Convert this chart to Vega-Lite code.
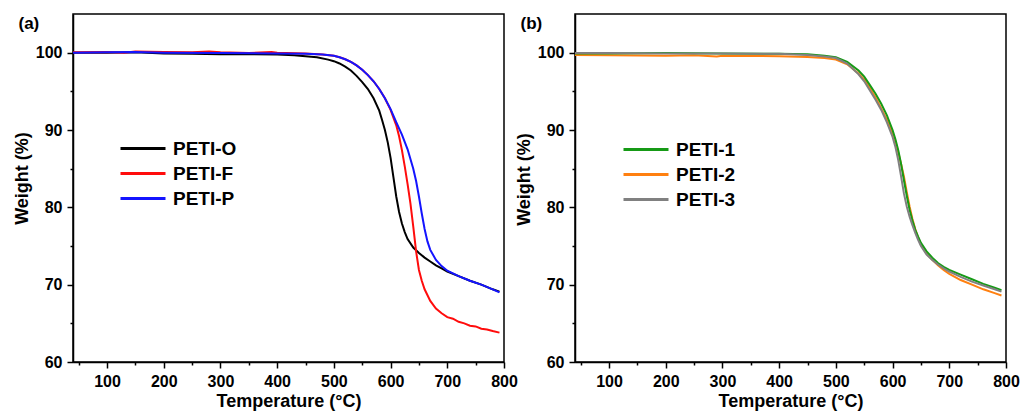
{
  "$schema": "https://vega.github.io/schema/vega-lite/v6.json",
  "background": "white",
  "padding": {"left": 12, "top": 13, "right": 4, "bottom": 2},
  "bounds": "flush",
  "spacing": 71,
  "datasets": {
    "a": [
      {"T": 40, "W": 100.0, "s": "PETI-O"}, {"T": 100, "W": 100.0, "s": "PETI-O"}, {"T": 150, "W": 100.05, "s": "PETI-O"}, {"T": 200, "W": 99.9, "s": "PETI-O"}, {"T": 250, "W": 99.85, "s": "PETI-O"}, {"T": 300, "W": 99.8, "s": "PETI-O"}, {"T": 350, "W": 99.8, "s": "PETI-O"}, {"T": 400, "W": 99.75, "s": "PETI-O"}, {"T": 430, "W": 99.65, "s": "PETI-O"}, {"T": 450, "W": 99.55, "s": "PETI-O"}, {"T": 470, "W": 99.4, "s": "PETI-O"}, {"T": 490, "W": 99.1, "s": "PETI-O"}, {"T": 500, "W": 98.9, "s": "PETI-O"}, {"T": 510, "W": 98.6, "s": "PETI-O"}, {"T": 520, "W": 98.2, "s": "PETI-O"}, {"T": 530, "W": 97.7, "s": "PETI-O"}, {"T": 540, "W": 97.0, "s": "PETI-O"}, {"T": 550, "W": 96.2, "s": "PETI-O"}, {"T": 560, "W": 95.3, "s": "PETI-O"}, {"T": 570, "W": 94.1, "s": "PETI-O"}, {"T": 580, "W": 92.5, "s": "PETI-O"}, {"T": 585, "W": 91.3, "s": "PETI-O"}, {"T": 590, "W": 90.0, "s": "PETI-O"}, {"T": 595, "W": 88.4, "s": "PETI-O"}, {"T": 600, "W": 86.4, "s": "PETI-O"}, {"T": 605, "W": 83.9, "s": "PETI-O"}, {"T": 610, "W": 81.4, "s": "PETI-O"}, {"T": 615, "W": 79.4, "s": "PETI-O"}, {"T": 620, "W": 77.9, "s": "PETI-O"}, {"T": 625, "W": 76.8, "s": "PETI-O"}, {"T": 630, "W": 75.9, "s": "PETI-O"}, {"T": 640, "W": 74.8, "s": "PETI-O"}, {"T": 650, "W": 74.1, "s": "PETI-O"}, {"T": 660, "W": 73.5, "s": "PETI-O"}, {"T": 670, "W": 73.0, "s": "PETI-O"}, {"T": 680, "W": 72.5, "s": "PETI-O"}, {"T": 690, "W": 72.1, "s": "PETI-O"}, {"T": 700, "W": 71.7, "s": "PETI-O"}, {"T": 720, "W": 71.1, "s": "PETI-O"}, {"T": 740, "W": 70.5, "s": "PETI-O"}, {"T": 760, "W": 70.0, "s": "PETI-O"}, {"T": 780, "W": 69.4, "s": "PETI-O"}, {"T": 792, "W": 69.1, "s": "PETI-O"},
      {"T": 40, "W": 100.05, "s": "PETI-F"}, {"T": 100, "W": 100.1, "s": "PETI-F"}, {"T": 130, "W": 100.0, "s": "PETI-F"}, {"T": 150, "W": 100.15, "s": "PETI-F"}, {"T": 200, "W": 100.1, "s": "PETI-F"}, {"T": 250, "W": 100.05, "s": "PETI-F"}, {"T": 280, "W": 100.15, "s": "PETI-F"}, {"T": 300, "W": 100.05, "s": "PETI-F"}, {"T": 350, "W": 99.95, "s": "PETI-F"}, {"T": 390, "W": 100.1, "s": "PETI-F"}, {"T": 400, "W": 100.0, "s": "PETI-F"}, {"T": 450, "W": 99.9, "s": "PETI-F"}, {"T": 480, "W": 99.75, "s": "PETI-F"}, {"T": 500, "W": 99.6, "s": "PETI-F"}, {"T": 510, "W": 99.4, "s": "PETI-F"}, {"T": 520, "W": 99.15, "s": "PETI-F"}, {"T": 530, "W": 98.8, "s": "PETI-F"}, {"T": 540, "W": 98.35, "s": "PETI-F"}, {"T": 550, "W": 97.8, "s": "PETI-F"}, {"T": 560, "W": 97.1, "s": "PETI-F"}, {"T": 570, "W": 96.3, "s": "PETI-F"}, {"T": 580, "W": 95.3, "s": "PETI-F"}, {"T": 590, "W": 94.1, "s": "PETI-F"}, {"T": 600, "W": 92.6, "s": "PETI-F"}, {"T": 610, "W": 90.6, "s": "PETI-F"}, {"T": 615, "W": 89.2, "s": "PETI-F"}, {"T": 620, "W": 87.4, "s": "PETI-F"}, {"T": 625, "W": 85.3, "s": "PETI-F"}, {"T": 630, "W": 83.0, "s": "PETI-F"}, {"T": 635, "W": 80.5, "s": "PETI-F"}, {"T": 640, "W": 77.5, "s": "PETI-F"}, {"T": 645, "W": 74.3, "s": "PETI-F"}, {"T": 650, "W": 71.9, "s": "PETI-F"}, {"T": 655, "W": 70.5, "s": "PETI-F"}, {"T": 660, "W": 69.4, "s": "PETI-F"}, {"T": 670, "W": 67.9, "s": "PETI-F"}, {"T": 680, "W": 66.9, "s": "PETI-F"}, {"T": 690, "W": 66.3, "s": "PETI-F"}, {"T": 700, "W": 65.8, "s": "PETI-F"}, {"T": 710, "W": 65.6, "s": "PETI-F"}, {"T": 720, "W": 65.2, "s": "PETI-F"}, {"T": 730, "W": 65.0, "s": "PETI-F"}, {"T": 740, "W": 64.7, "s": "PETI-F"}, {"T": 750, "W": 64.6, "s": "PETI-F"}, {"T": 760, "W": 64.3, "s": "PETI-F"}, {"T": 770, "W": 64.2, "s": "PETI-F"}, {"T": 780, "W": 64.0, "s": "PETI-F"}, {"T": 792, "W": 63.8, "s": "PETI-F"},
      {"T": 40, "W": 100.0, "s": "PETI-P"}, {"T": 100, "W": 100.05, "s": "PETI-P"}, {"T": 150, "W": 100.1, "s": "PETI-P"}, {"T": 200, "W": 100.0, "s": "PETI-P"}, {"T": 300, "W": 99.95, "s": "PETI-P"}, {"T": 400, "W": 99.9, "s": "PETI-P"}, {"T": 450, "W": 99.85, "s": "PETI-P"}, {"T": 480, "W": 99.75, "s": "PETI-P"}, {"T": 500, "W": 99.6, "s": "PETI-P"}, {"T": 510, "W": 99.4, "s": "PETI-P"}, {"T": 520, "W": 99.15, "s": "PETI-P"}, {"T": 530, "W": 98.8, "s": "PETI-P"}, {"T": 540, "W": 98.35, "s": "PETI-P"}, {"T": 550, "W": 97.8, "s": "PETI-P"}, {"T": 560, "W": 97.1, "s": "PETI-P"}, {"T": 570, "W": 96.3, "s": "PETI-P"}, {"T": 580, "W": 95.3, "s": "PETI-P"}, {"T": 590, "W": 94.1, "s": "PETI-P"}, {"T": 600, "W": 92.7, "s": "PETI-P"}, {"T": 610, "W": 91.0, "s": "PETI-P"}, {"T": 620, "W": 89.4, "s": "PETI-P"}, {"T": 630, "W": 87.5, "s": "PETI-P"}, {"T": 640, "W": 85.0, "s": "PETI-P"}, {"T": 645, "W": 83.4, "s": "PETI-P"}, {"T": 650, "W": 81.4, "s": "PETI-P"}, {"T": 655, "W": 79.2, "s": "PETI-P"}, {"T": 660, "W": 77.2, "s": "PETI-P"}, {"T": 665, "W": 75.6, "s": "PETI-P"}, {"T": 670, "W": 74.5, "s": "PETI-P"}, {"T": 680, "W": 73.2, "s": "PETI-P"}, {"T": 690, "W": 72.4, "s": "PETI-P"}, {"T": 700, "W": 71.8, "s": "PETI-P"}, {"T": 720, "W": 71.1, "s": "PETI-P"}, {"T": 740, "W": 70.5, "s": "PETI-P"}, {"T": 760, "W": 70.0, "s": "PETI-P"}, {"T": 780, "W": 69.4, "s": "PETI-P"}, {"T": 792, "W": 69.0, "s": "PETI-P"}
    ],
    "b": [
      {"T": 40, "W": 99.7, "s": "PETI-2"}, {"T": 100, "W": 99.65, "s": "PETI-2"}, {"T": 200, "W": 99.6, "s": "PETI-2"}, {"T": 250, "W": 99.65, "s": "PETI-2"}, {"T": 290, "W": 99.5, "s": "PETI-2"}, {"T": 300, "W": 99.6, "s": "PETI-2"}, {"T": 400, "W": 99.55, "s": "PETI-2"}, {"T": 450, "W": 99.45, "s": "PETI-2"}, {"T": 480, "W": 99.3, "s": "PETI-2"}, {"T": 500, "W": 99.1, "s": "PETI-2"}, {"T": 520, "W": 98.5, "s": "PETI-2"}, {"T": 540, "W": 97.3, "s": "PETI-2"}, {"T": 550, "W": 96.5, "s": "PETI-2"}, {"T": 560, "W": 95.4, "s": "PETI-2"}, {"T": 570, "W": 94.2, "s": "PETI-2"}, {"T": 580, "W": 92.8, "s": "PETI-2"}, {"T": 590, "W": 91.3, "s": "PETI-2"}, {"T": 600, "W": 89.6, "s": "PETI-2"}, {"T": 605, "W": 88.5, "s": "PETI-2"}, {"T": 610, "W": 87.1, "s": "PETI-2"}, {"T": 615, "W": 85.6, "s": "PETI-2"}, {"T": 620, "W": 84.0, "s": "PETI-2"}, {"T": 625, "W": 82.0, "s": "PETI-2"}, {"T": 630, "W": 80.1, "s": "PETI-2"}, {"T": 635, "W": 78.5, "s": "PETI-2"}, {"T": 640, "W": 77.2, "s": "PETI-2"}, {"T": 645, "W": 76.1, "s": "PETI-2"}, {"T": 650, "W": 75.2, "s": "PETI-2"}, {"T": 660, "W": 74.0, "s": "PETI-2"}, {"T": 670, "W": 73.2, "s": "PETI-2"}, {"T": 680, "W": 72.5, "s": "PETI-2"}, {"T": 690, "W": 71.9, "s": "PETI-2"}, {"T": 700, "W": 71.4, "s": "PETI-2"}, {"T": 720, "W": 70.6, "s": "PETI-2"}, {"T": 740, "W": 70.0, "s": "PETI-2"}, {"T": 760, "W": 69.4, "s": "PETI-2"}, {"T": 780, "W": 68.9, "s": "PETI-2"}, {"T": 792, "W": 68.6, "s": "PETI-2"},
      {"T": 40, "W": 99.9, "s": "PETI-1"}, {"T": 100, "W": 99.9, "s": "PETI-1"}, {"T": 200, "W": 99.95, "s": "PETI-1"}, {"T": 300, "W": 99.9, "s": "PETI-1"}, {"T": 400, "W": 99.85, "s": "PETI-1"}, {"T": 450, "W": 99.8, "s": "PETI-1"}, {"T": 480, "W": 99.6, "s": "PETI-1"}, {"T": 500, "W": 99.4, "s": "PETI-1"}, {"T": 520, "W": 98.8, "s": "PETI-1"}, {"T": 540, "W": 97.7, "s": "PETI-1"}, {"T": 550, "W": 96.9, "s": "PETI-1"}, {"T": 560, "W": 95.8, "s": "PETI-1"}, {"T": 570, "W": 94.7, "s": "PETI-1"}, {"T": 580, "W": 93.4, "s": "PETI-1"}, {"T": 590, "W": 91.9, "s": "PETI-1"}, {"T": 600, "W": 90.0, "s": "PETI-1"}, {"T": 605, "W": 88.8, "s": "PETI-1"}, {"T": 610, "W": 87.4, "s": "PETI-1"}, {"T": 615, "W": 85.6, "s": "PETI-1"}, {"T": 620, "W": 83.5, "s": "PETI-1"}, {"T": 625, "W": 81.5, "s": "PETI-1"}, {"T": 630, "W": 79.7, "s": "PETI-1"}, {"T": 635, "W": 78.3, "s": "PETI-1"}, {"T": 640, "W": 77.1, "s": "PETI-1"}, {"T": 645, "W": 76.2, "s": "PETI-1"}, {"T": 650, "W": 75.4, "s": "PETI-1"}, {"T": 660, "W": 74.3, "s": "PETI-1"}, {"T": 670, "W": 73.5, "s": "PETI-1"}, {"T": 680, "W": 72.8, "s": "PETI-1"}, {"T": 690, "W": 72.3, "s": "PETI-1"}, {"T": 700, "W": 71.9, "s": "PETI-1"}, {"T": 720, "W": 71.3, "s": "PETI-1"}, {"T": 740, "W": 70.7, "s": "PETI-1"}, {"T": 760, "W": 70.1, "s": "PETI-1"}, {"T": 780, "W": 69.6, "s": "PETI-1"}, {"T": 792, "W": 69.3, "s": "PETI-1"},
      {"T": 40, "W": 99.95, "s": "PETI-3"}, {"T": 100, "W": 99.95, "s": "PETI-3"}, {"T": 200, "W": 99.9, "s": "PETI-3"}, {"T": 300, "W": 99.9, "s": "PETI-3"}, {"T": 400, "W": 99.85, "s": "PETI-3"}, {"T": 450, "W": 99.7, "s": "PETI-3"}, {"T": 480, "W": 99.5, "s": "PETI-3"}, {"T": 500, "W": 99.3, "s": "PETI-3"}, {"T": 520, "W": 98.6, "s": "PETI-3"}, {"T": 540, "W": 97.2, "s": "PETI-3"}, {"T": 550, "W": 96.3, "s": "PETI-3"}, {"T": 560, "W": 95.1, "s": "PETI-3"}, {"T": 570, "W": 93.9, "s": "PETI-3"}, {"T": 580, "W": 92.6, "s": "PETI-3"}, {"T": 590, "W": 91.0, "s": "PETI-3"}, {"T": 600, "W": 89.1, "s": "PETI-3"}, {"T": 605, "W": 87.8, "s": "PETI-3"}, {"T": 610, "W": 86.1, "s": "PETI-3"}, {"T": 615, "W": 84.0, "s": "PETI-3"}, {"T": 620, "W": 81.8, "s": "PETI-3"}, {"T": 625, "W": 80.1, "s": "PETI-3"}, {"T": 630, "W": 78.8, "s": "PETI-3"}, {"T": 635, "W": 77.7, "s": "PETI-3"}, {"T": 640, "W": 76.7, "s": "PETI-3"}, {"T": 645, "W": 75.8, "s": "PETI-3"}, {"T": 650, "W": 75.0, "s": "PETI-3"}, {"T": 660, "W": 73.9, "s": "PETI-3"}, {"T": 670, "W": 73.2, "s": "PETI-3"}, {"T": 680, "W": 72.6, "s": "PETI-3"}, {"T": 690, "W": 72.1, "s": "PETI-3"}, {"T": 700, "W": 71.7, "s": "PETI-3"}, {"T": 720, "W": 71.0, "s": "PETI-3"}, {"T": 740, "W": 70.4, "s": "PETI-3"}, {"T": 760, "W": 69.9, "s": "PETI-3"}, {"T": 780, "W": 69.4, "s": "PETI-3"}, {"T": 792, "W": 69.1, "s": "PETI-3"}
    ]
  },
  "hconcat": [
    {
      "width": 431,
      "height": 348,
      "data": {"name": "a"},
      "layer": [
        {
          "mark": {"type": "line", "strokeWidth": 2},
          "encoding": {
            "x": {"field": "T", "type": "quantitative", "scale": {"domain": [40, 800], "nice": false, "zero": false},
                  "axis": {"values": [100, 200, 300, 400, 500, 600, 700, 800], "title": "Temperature (°C)"}},
            "y": {"field": "W", "type": "quantitative", "scale": {"domain": [60, 105], "nice": false, "zero": false},
                  "axis": {"values": [60, 70, 80, 90, 100], "title": "Weight (%)", "titleY": 164}},
            "color": {"field": "s", "type": "nominal",
                      "scale": {"domain": ["PETI-O", "PETI-F", "PETI-P"], "range": ["#000000", "#ff0c0c", "#1414ff"]},
                      "legend": {"orient": "none", "legendX": 46, "legendY": 122}}
          }
        },
        {
          "mark": {"type": "line", "strokeOpacity": 0},
          "encoding": {
            "x": {"field": "T", "type": "quantitative",
                  "axis": {"orient": "bottom", "values": [50, 150, 250, 350, 450, 550, 650, 750], "labels": false, "title": null, "tickSize": 3, "domain": false}},
            "y": {"field": "W", "type": "quantitative",
                  "axis": {"orient": "left", "values": [65, 75, 85, 95], "labels": false, "tickSize": 3, "domain": false,
                           "title": "(a)", "titleFontSize": 17, "titleAngle": 0, "titleX": -55, "titleY": 14, "titleAlign": "left", "titleBaseline": "alphabetic"}}
          }
        }
      ],
      "resolve": {"axis": {"x": "independent", "y": "independent"}}
    },
    {
      "width": 431,
      "height": 348,
      "data": {"name": "b"},
      "layer": [
        {
          "mark": {"type": "line", "strokeWidth": 2},
          "encoding": {
            "x": {"field": "T", "type": "quantitative", "scale": {"domain": [40, 800], "nice": false, "zero": false},
                  "axis": {"values": [100, 200, 300, 400, 500, 600, 700, 800], "title": "Temperature (°C)"}},
            "y": {"field": "W", "type": "quantitative", "scale": {"domain": [60, 105], "nice": false, "zero": false},
                  "axis": {"values": [60, 70, 80, 90, 100], "title": "Weight (%)", "titleY": 165}},
            "color": {"field": "s", "type": "nominal",
                      "scale": {"domain": ["PETI-1", "PETI-2", "PETI-3"], "range": ["#169a16", "#ff8010", "#808080"]},
                      "legend": {"orient": "none", "legendX": 47, "legendY": 123}}
          }
        },
        {
          "mark": {"type": "line", "strokeOpacity": 0},
          "encoding": {
            "x": {"field": "T", "type": "quantitative",
                  "axis": {"orient": "bottom", "values": [50, 150, 250, 350, 450, 550, 650, 750], "labels": false, "title": null, "tickSize": 3, "domain": false}},
            "y": {"field": "W", "type": "quantitative",
                  "axis": {"orient": "left", "values": [65, 75, 85, 95], "labels": false, "tickSize": 3, "domain": false,
                           "title": "(b)", "titleFontSize": 17, "titleAngle": 0, "titleX": -55, "titleY": 14, "titleAlign": "left", "titleBaseline": "alphabetic"}}
          }
        }
      ],
      "resolve": {"axis": {"x": "independent", "y": "independent"}, "scale": {"color": "independent"}}
    }
  ],
  "resolve": {"scale": {"color": "independent"}},
  "config": {
    "font": "Liberation Sans",
    "view": {"stroke": "#000000", "strokeWidth": 1.5},
    "axis": {
      "grid": false,
      "domainColor": "#000000", "domainWidth": 1.5,
      "tickColor": "#000000", "tickWidth": 1.5, "tickSize": 6,
      "labelFont": "Liberation Sans", "labelFontSize": 16, "labelFontWeight": "bold", "labelColor": "#000000", "labelPadding": 5,
      "titleFont": "Liberation Sans", "titleFontSize": 18, "titleFontWeight": "bold", "titleColor": "#000000",
      "labelFlush": false, "labelOverlap": false
    },
    "axisX": {"titlePadding": 3},
    "axisY": {"titlePadding": 4},
    "legend": {
      "title": null, "symbolType": "stroke", "symbolSize": 2025, "symbolStrokeWidth": 3,
      "labelFont": "Liberation Sans", "labelFontSize": 19, "labelFontWeight": "bold", "labelColor": "#000000",
      "labelOffset": 6, "rowPadding": 0, "clipHeight": 25, "padding": 0
    }
  }
}
